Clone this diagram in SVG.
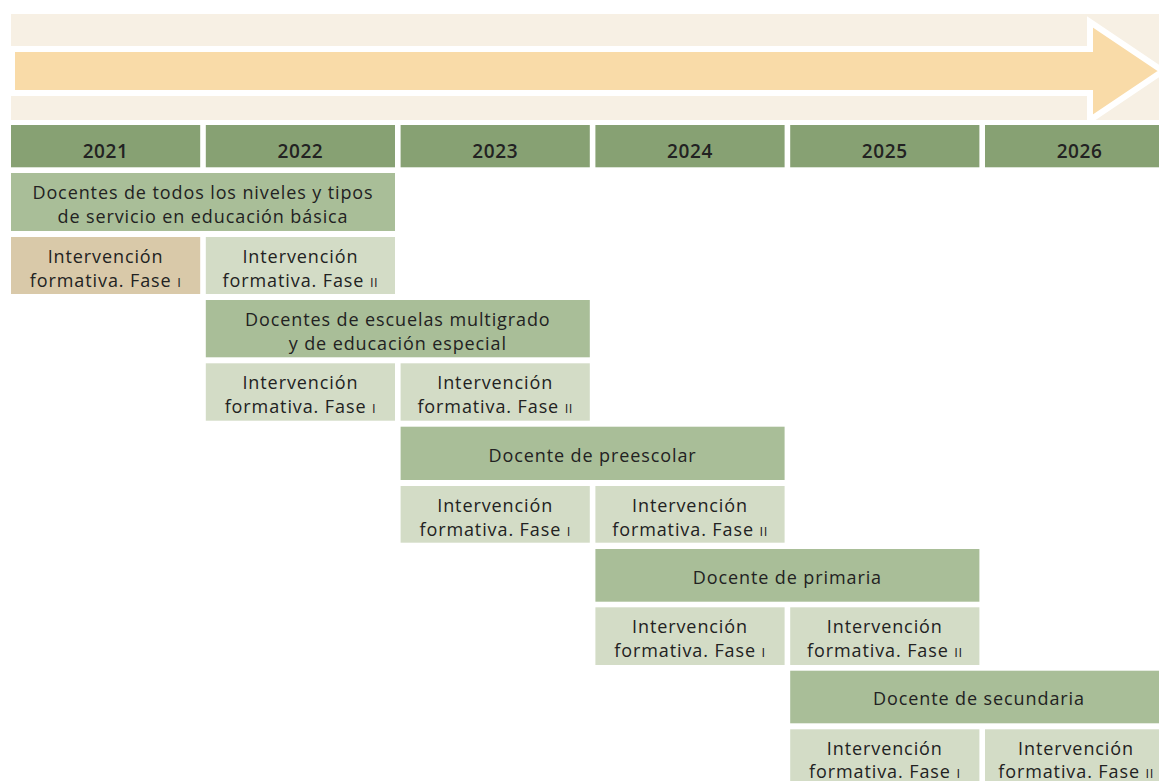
<svg xmlns="http://www.w3.org/2000/svg" width="1159" height="781" viewBox="0 0 1159 781">
  <style>
    text { font-family: "Open Sans", "Liberation Sans", sans-serif; fill: #222; text-anchor: middle; }
    .yr { fill: #87A173; }
    .grp { fill: #A9BE98; }
    .sub { fill: #D3DCC6; }
    .tan { fill: #D9C9A9; }
    .yt { font-size: 19px; font-weight: 600; letter-spacing: 0.6px; }
    .gt { font-size: 18px; font-weight: 500; letter-spacing: 0.9px; }
    .st { font-size: 18px; letter-spacing: 0.9px; }
    .rn { font-size: 13px; letter-spacing: 0.5px; }
  </style>
  <rect width="1159" height="781" fill="#fff"/>

  <!-- timeline band with arrow -->
  <g id="timeline">
    <rect x="11" y="14" width="1148" height="106" fill="#F7F0E4"/>
    <path d="M12,49 H1090 V22 L1163,71 L1090,120 V93 H12 Z" fill="#F9DBA8" stroke="#fff" stroke-width="6" stroke-linejoin="miter"/>
  </g>

  <!-- year header -->
  <g id="years">
    <rect class="yr" x="11" y="125" width="189.2" height="42.3"/>
    <rect class="yr" x="205.8" y="125" width="189.2" height="42.3"/>
    <rect class="yr" x="400.6" y="125" width="189.2" height="42.3"/>
    <rect class="yr" x="595.4" y="125" width="189.2" height="42.3"/>
    <rect class="yr" x="790.2" y="125" width="189.2" height="42.3"/>
    <rect class="yr" x="985" y="125" width="189.2" height="42.3"/>
    <text class="yt" x="105.6" y="158">2021</text>
    <text class="yt" x="300.4" y="158">2022</text>
    <text class="yt" x="495.2" y="158">2023</text>
    <text class="yt" x="690" y="158">2024</text>
    <text class="yt" x="884.8" y="158">2025</text>
    <text class="yt" x="1079.6" y="158">2026</text>
  </g>

  <!-- stage 1 -->
  <g id="stage1">
    <rect class="grp" x="11" y="173" width="384" height="58"/>
    <text class="gt" x="203" y="199">Docentes de todos los niveles y tipos</text>
    <text class="gt" x="203" y="223">de servicio en educación básica</text>
  </g>
  <g id="stage1-f1">
    <rect class="tan" x="11" y="237" width="189.2" height="57"/>
    <text class="st" x="105.6" y="263">Intervención</text>
    <text class="st" x="105.6" y="287">formativa. Fase <tspan class="rn">I</tspan></text>
  </g>
  <g id="stage1-f2">
    <rect class="sub" x="205.8" y="237" width="189.2" height="57"/>
    <text class="st" x="300.4" y="263">Intervención</text>
    <text class="st" x="300.4" y="287">formativa. Fase <tspan class="rn">II</tspan></text>
  </g>

  <!-- stage 2 -->
  <g id="stage2">
    <rect class="grp" x="205.8" y="300" width="384" height="57.3"/>
    <text class="gt" x="397.8" y="326">Docentes de escuelas multigrado</text>
    <text class="gt" x="397.8" y="350">y de educación especial</text>
  </g>
  <g id="stage2-f1">
    <rect class="sub" x="205.8" y="363.3" width="189.2" height="57.4"/>
    <text class="st" x="300.4" y="389">Intervención</text>
    <text class="st" x="300.4" y="413">formativa. Fase <tspan class="rn">I</tspan></text>
  </g>
  <g id="stage2-f2">
    <rect class="sub" x="400.6" y="363.3" width="189.2" height="57.4"/>
    <text class="st" x="495.2" y="389">Intervención</text>
    <text class="st" x="495.2" y="413">formativa. Fase <tspan class="rn">II</tspan></text>
  </g>

  <!-- stage 3 -->
  <g id="stage3">
    <rect class="grp" x="400.6" y="426.7" width="384" height="53.3"/>
    <text class="gt" x="592.6" y="461.5">Docente de preescolar</text>
  </g>
  <g id="stage3-f1">
    <rect class="sub" x="400.6" y="486" width="189.2" height="56.7"/>
    <text class="st" x="495.2" y="511.5">Intervención</text>
    <text class="st" x="495.2" y="535.5">formativa. Fase <tspan class="rn">I</tspan></text>
  </g>
  <g id="stage3-f2">
    <rect class="sub" x="595.4" y="486" width="189.2" height="56.7"/>
    <text class="st" x="690" y="511.5">Intervención</text>
    <text class="st" x="690" y="535.5">formativa. Fase <tspan class="rn">II</tspan></text>
  </g>

  <!-- stage 4 -->
  <g id="stage4">
    <rect class="grp" x="595.4" y="549" width="384" height="52.7"/>
    <text class="gt" x="787.4" y="583.5">Docente de primaria</text>
  </g>
  <g id="stage4-f1">
    <rect class="sub" x="595.4" y="607.3" width="189.2" height="57.7"/>
    <text class="st" x="690" y="633">Intervención</text>
    <text class="st" x="690" y="657">formativa. Fase <tspan class="rn">I</tspan></text>
  </g>
  <g id="stage4-f2">
    <rect class="sub" x="790.2" y="607.3" width="189.2" height="57.7"/>
    <text class="st" x="884.8" y="633">Intervención</text>
    <text class="st" x="884.8" y="657">formativa. Fase <tspan class="rn">II</tspan></text>
  </g>

  <!-- stage 5 -->
  <g id="stage5">
    <rect class="grp" x="790.2" y="670.7" width="384" height="52.6"/>
    <text class="gt" x="979" y="705">Docente de secundaria</text>
  </g>
  <g id="stage5-f1">
    <rect class="sub" x="790.2" y="729.3" width="189.2" height="57"/>
    <text class="st" x="884.8" y="755">Intervención</text>
    <text class="st" x="884.8" y="778">formativa. Fase <tspan class="rn">I</tspan></text>
  </g>
  <g id="stage5-f2">
    <rect class="sub" x="985" y="729.3" width="189.2" height="57"/>
    <text class="st" x="1076" y="755">Intervención</text>
    <text class="st" x="1076" y="778">formativa. Fase <tspan class="rn">II</tspan></text>
  </g>

  <!-- connectors: none drawn -->
  <g id="connectors"/>
</svg>
